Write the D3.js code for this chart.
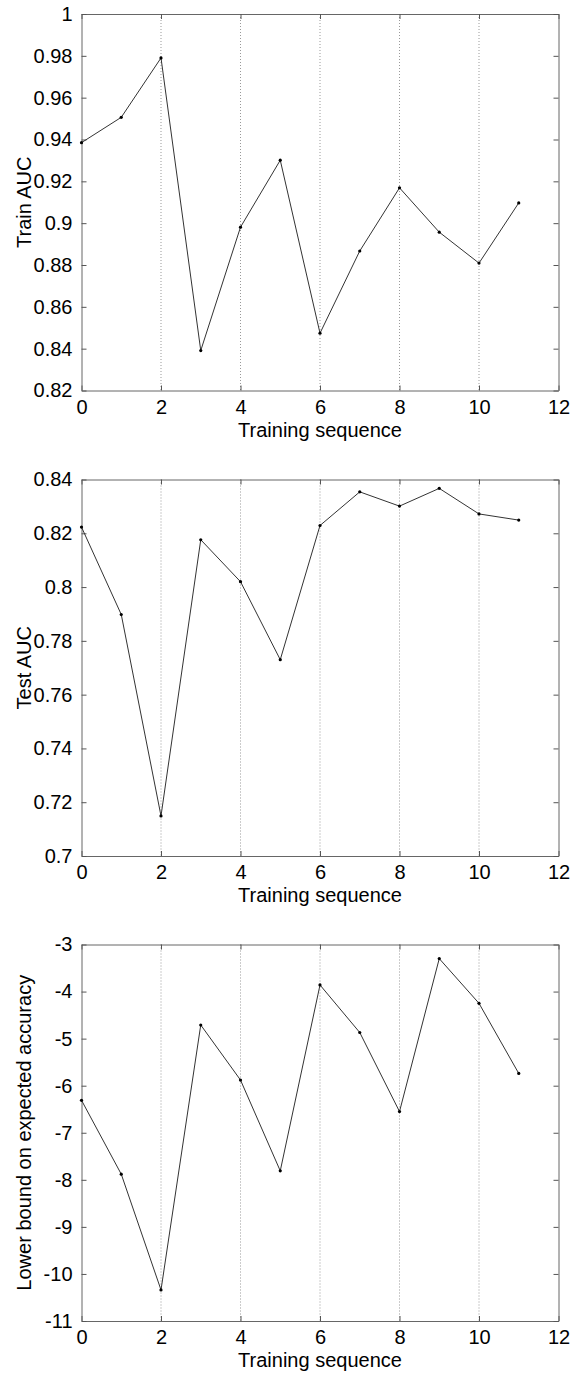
<!DOCTYPE html>
<html>
<head>
<meta charset="utf-8">
<script src="https://cdn.jsdelivr.net/npm/d3@7"></script>
<style>
  body { margin: 0; background: #fff; }
  svg { display: block; font-family: "Liberation Sans", Arial, sans-serif; }
</style>
</head>
<body>
<svg id="svg" width="570" height="1374"></svg>
<script>
// training sequence index shared by all three panels
const steps = [0, 1, 2, 3, 4, 5, 6, 7, 8, 9, 10, 11];

const trainAuc = [0.9385, 0.9506, 0.979, 0.8391, 0.8981, 0.9301, 0.8474, 0.8867, 0.9169, 0.8957, 0.8809, 0.9097];
const testAuc = [0.8223, 0.7898, 0.7149, 0.8176, 0.802, 0.773, 0.8229, 0.8354, 0.8301, 0.8367, 0.8272, 0.8249];
const lowerBound = [-6.31, -7.88, -10.34, -4.71, -5.88, -7.81, -3.86, -4.87, -6.55, -3.30, -4.25, -5.74];

const xTicks = [0, 2, 4, 6, 8, 10, 12];
const trainTicks = [0.82, 0.84, 0.86, 0.88, 0.9, 0.92, 0.94, 0.96, 0.98, 1];
const testTicks = [0.7, 0.72, 0.74, 0.76, 0.78, 0.8, 0.82, 0.84];
const boundTicks = [-11, -10, -9, -8, -7, -6, -5, -4, -3];

const svg = d3.select('#svg');
const left = 81.5, right = 558.5, plotH = 376.5;

function panel(top, values, yTicks, label) {
  const x = d3.scaleLinear().domain([0, 12]).range([left, right]);
  const y = d3.scaleLinear().domain(d3.extent(yTicks)).range([top + plotH, top]);
  const g = svg.append('g');

  // dotted vertical grid
  g.selectAll('.grid').data(xTicks.slice(1, -1)).join('line')
    .attr('x1', d => x(d)).attr('x2', d => x(d))
    .attr('y1', top).attr('y2', top + plotH)
    .attr('stroke', '#999').attr('stroke-width', 1)
    .attr('stroke-dasharray', '1,2');

  const fmt = d => String(+d.toFixed(2));

  // axes with inward ticks, MATLAB style box
  const axes = [
    [d3.axisBottom(x).tickValues(xTicks).tickFormat(fmt), `translate(0,${top + plotH})`, true],
    [d3.axisTop(x).tickValues(xTicks).tickFormat(''), `translate(0,${top})`, false],
    [d3.axisLeft(y).tickValues(yTicks).tickFormat(fmt), `translate(${left},0)`, true],
    [d3.axisRight(y).tickValues(yTicks).tickFormat(''), `translate(${right},0)`, false]
  ];
  axes.forEach(([axis, tr, labels]) => {
    const a = g.append('g').attr('transform', tr)
      .call(axis.tickSizeInner(-5).tickSizeOuter(0).tickPadding(labels ? 9 : 0));
    a.select('.domain').attr('stroke', '#666');
    a.selectAll('.tick line').attr('stroke', '#555');
    a.selectAll('text').attr('font-size', 20).attr('fill', '#000')
      .attr('font-family', '"Liberation Sans", Arial, sans-serif');
  });

  const line = d3.line().x((d, i) => x(steps[i])).y(d => y(d));
  g.append('path').datum(values)
    .attr('d', line)
    .attr('fill', 'none')
    .attr('stroke', '#333')
    .attr('stroke-width', 1);

  g.selectAll('.pt').data(values).join('circle')
    .attr('cx', (d, i) => x(steps[i])).attr('cy', d => y(d))
    .attr('r', 1.6).attr('fill', '#000');

  g.append('text')
    .attr('x', (left + right) / 2).attr('y', top + plotH + 46)
    .attr('text-anchor', 'middle').attr('font-size', 20)
    .text('Training sequence');

  g.append('text')
    .attr('transform', `translate(31,${top + plotH / 2}) rotate(-90)`)
    .attr('text-anchor', 'middle').attr('font-size', 20)
    .text(label);
}

panel(14, trainAuc, trainTicks, 'Train AUC');
panel(479.5, testAuc, testTicks, 'Test AUC');
panel(944.5, lowerBound, boundTicks, 'Lower bound on expected accuracy');
</script>
</body>
</html>
